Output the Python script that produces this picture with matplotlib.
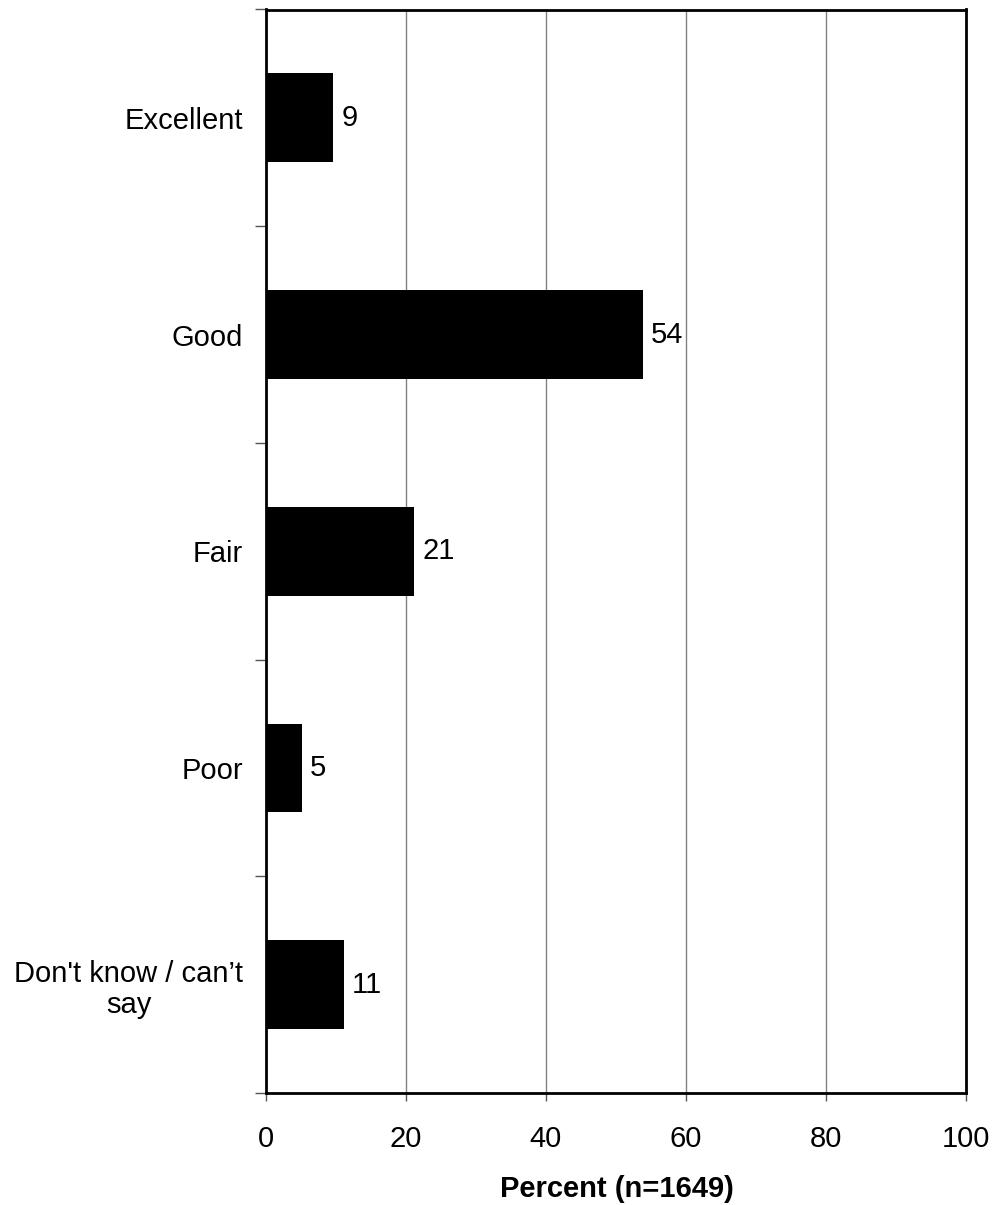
import matplotlib
matplotlib.use("Agg")
import matplotlib.pyplot as plt

categories = ["Excellent", "Good", "Fair", "Poor", "Don't know / can\u2019t\nsay"]
values = [9.6, 53.8, 21.2, 5.1, 11.1]
value_labels = ["9", "54", "21", "5", "11"]
xticks = [0, 20, 40, 60, 80, 100]

plt.rcParams['font.family'] = ['Liberation Sans', 'DejaVu Sans']
FS = 21

fig = plt.figure(figsize=(9.97, 12.05), dpi=100)
ax = fig.add_axes([266/997, 1 - 1093/1205, 700/997, (1093 - 9.5)/1205])

ypos = list(range(len(categories)))
ax.barh(ypos, values, height=0.41, color='black', zorder=3)
for y, v, lab in zip(ypos, values, value_labels):
    ax.annotate(lab, (v, y), xytext=(5.8, 0), textcoords='offset points',
                ha='left', va='center', fontsize=FS)

ax.set_xlim(0, 100)
ax.set_ylim(len(categories) - 0.5, -0.5)
ax.set_xticks(xticks)
ax.set_xticklabels([str(t) for t in xticks], fontsize=FS)
ax.tick_params(axis='x', direction='out', length=6, width=1, color='#555555', pad=17)

ax.set_yticks([i + 0.5 for i in range(-1, len(categories))])
ax.set_yticklabels([])
ax.tick_params(axis='y', which='major', direction='out', length=8, width=1, color='#555555')
ax.set_yticks(ypos, minor=True)
ax.set_yticklabels(categories, minor=True, fontsize=FS, multialignment='center',
                   linespacing=1.15)
ax.tick_params(axis='y', which='minor', length=0, pad=16.6)

ax.xaxis.grid(True, color='#808080', linewidth=1, zorder=0)
ax.yaxis.grid(False)
for s in ax.spines.values():
    s.set_color('black')
    s.set_linewidth(2)

fig.text(617/997, 1 - 1197/1205, "Percent (n=1649)", fontsize=FS, fontweight='bold',
         ha='center', va='baseline')

fig.savefig("out.png", dpi=100, facecolor='white')
